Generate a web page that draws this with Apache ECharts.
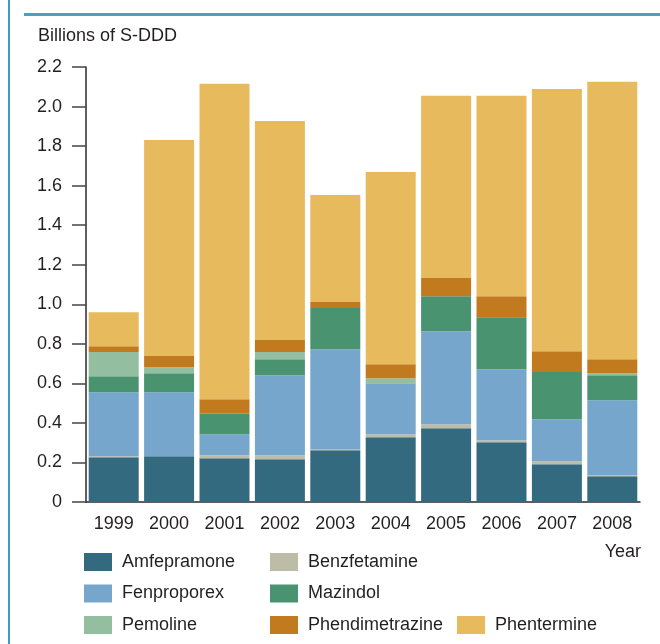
<!DOCTYPE html>
<html lang="en">
<head>
    <meta charset="UTF-8" />
    <title>Billions of S-DDD by year</title>
    <script src="https://cdn.jsdelivr.net/npm/echarts@6/dist/echarts.min.js"></script>
    <style>
        html, body { margin: 0; padding: 0; background: #fff; }
        #chart { width: 660px; height: 644px; }
    </style>
</head>
<body>
    <div id="chart"></div>
    <script>
        const years = ['1999', '2000', '2001', '2002', '2003', '2004', '2005', '2006', '2007', '2008'];

        // stacked from the bottom up, values in billions of S-DDD
        const amfepramone     = [0.226, 0.231, 0.221, 0.216, 0.262, 0.327, 0.373, 0.302, 0.191, 0.130];
        const benzfetamine    = [0.005, 0.000, 0.015, 0.020, 0.006, 0.016, 0.020, 0.010, 0.015, 0.005];
        const fenproporex     = [0.324, 0.324, 0.107, 0.405, 0.505, 0.258, 0.471, 0.360, 0.213, 0.380];
        const mazindol        = [0.081, 0.096, 0.103, 0.081, 0.208, 0.000, 0.177, 0.263, 0.239, 0.126];
        const pemoline        = [0.122, 0.031, 0.000, 0.036, 0.000, 0.025, 0.000, 0.000, 0.000, 0.012];
        const phendimetrazine = [0.030, 0.056, 0.074, 0.061, 0.030, 0.071, 0.092, 0.106, 0.105, 0.069];
        const phentermine     = [0.172, 1.093, 1.595, 1.108, 0.542, 0.972, 0.921, 1.013, 1.326, 1.403];

        const yTicks = [0, 0.2, 0.4, 0.6, 0.8, 1.0, 1.2, 1.4, 1.6, 1.8, 2.0, 2.2];

        const FONT = "'Liberation Sans', Arial, sans-serif";
        const INK = '#231f20';

        const drugs = [
            { name: 'Amfepramone', data: amfepramone, color: '#346a80' },
            { name: 'Benzfetamine', data: benzfetamine, color: '#bdbca6' },
            { name: 'Fenproporex', data: fenproporex, color: '#76a6cb' },
            { name: 'Mazindol', data: mazindol, color: '#499371' },
            { name: 'Pemoline', data: pemoline, color: '#93bea0' },
            { name: 'Phendimetrazine', data: phendimetrazine, color: '#c27a1f' },
            { name: 'Phentermine', data: phentermine, color: '#e7ba5e' }
        ];

        const legendText = { fontFamily: FONT, fontSize: 18, color: INK, lineHeight: 18, padding: [0, 0, 0, 5] };
        function legendCol(names, left, top) {
            return {
                data: names, orient: 'vertical', left: left, top: top, padding: 0,
                icon: 'rect', itemWidth: 28, itemHeight: 18, itemGap: 13.5,
                textStyle: legendText, selectedMode: false
            };
        }

        const chart = echarts.init(document.getElementById('chart'));
        chart.setOption({
            animation: false,
            title: [
                { text: 'Billions of S-DDD', left: 38, top: 27, padding: 0,
                  textStyle: { fontFamily: FONT, fontSize: 18, fontWeight: 'normal', color: INK } },
                { text: 'Year', right: 19, top: 543, padding: 0,
                  textStyle: { fontFamily: FONT, fontSize: 18, fontWeight: 'normal', color: INK } }
            ],
            graphic: [
                { type: 'rect', shape: { x: 8, y: 0, width: 2, height: 644 }, style: { fill: '#3d9cc1' } },
                { type: 'rect', shape: { x: 24, y: 13, width: 636, height: 3 }, style: { fill: '#4a9fc2' } }
            ],
            legend: [
                legendCol(['Amfepramone', 'Fenproporex', 'Pemoline'], 84, 553),
                legendCol(['Benzfetamine', 'Mazindol', 'Phendimetrazine'], 270, 553),
                legendCol(['Phentermine'], 457, 616)
            ],
            grid: { left: 86, right: 20, top: 67, bottom: 142 },
            xAxis: {
                type: 'category',
                data: years,
                axisLine: { lineStyle: { color: '#2b2b2b', width: 1.5 } },
                axisTick: { length: 10, lineStyle: { color: '#444', width: 1.5 } },
                axisLabel: { interval: 0, margin: 13, fontFamily: FONT, fontSize: 18, color: INK }
            },
            yAxis: {
                type: 'value',
                min: 0,
                max: yTicks[yTicks.length - 1],
                interval: 0.2,
                splitLine: { show: false },
                axisLine: { show: true, lineStyle: { color: '#2b2b2b', width: 1.5 } },
                axisTick: { show: true, length: 14, lineStyle: { color: '#444', width: 1.5 } },
                axisLabel: {
                    margin: 24, fontFamily: FONT, fontSize: 18, color: INK,
                    formatter: v => (v === 0 ? '0' : v.toFixed(1))
                }
            },
            series: drugs.map(d => ({
                name: d.name,
                type: 'bar',
                stack: 'total',
                barWidth: 50,
                data: d.data,
                itemStyle: { color: d.color }
            }))
        });
    </script>
</body>
</html>
